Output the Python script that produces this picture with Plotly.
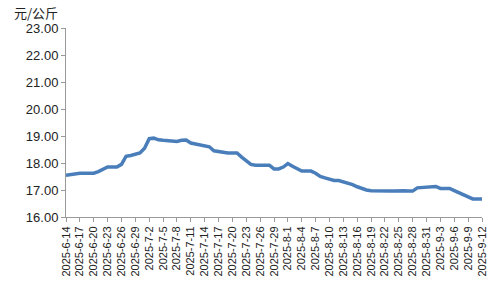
import plotly.graph_objects as go
import datetime as dt

start = dt.date(2025, 6, 14)
dates = [f"{(start + dt.timedelta(days=i)).year}-{(start + dt.timedelta(days=i)).month}-{(start + dt.timedelta(days=i)).day}" for i in range(91)]

prices = [
    17.55, 17.58, 17.60, 17.62, 17.62, 17.62, 17.62, 17.68, 17.78, 17.85,
    17.85, 17.85, 17.95, 18.25, 18.28, 18.32, 18.37, 18.55, 18.90, 18.92,
    18.86, 18.84, 18.82, 18.80, 18.80, 18.84, 18.85, 18.74, 18.70, 18.66,
    18.62, 18.60, 18.45, 18.42, 18.37, 18.37, 18.37, 18.37, 18.22, 18.10,
    17.95, 17.92, 17.92, 17.92, 17.92, 17.78, 17.78, 17.85, 17.98, 17.88,
    17.78, 17.70, 17.70, 17.70, 17.62, 17.50, 17.45, 17.40, 17.35, 17.35,
    17.30, 17.28, 17.20, 17.12, 17.05, 17.00, 16.97, 16.96, 16.96, 16.96,
    16.96, 16.96, 16.98, 16.97, 16.96, 16.96, 17.08, 17.10, 17.11, 17.12,
    17.13, 17.06, 17.06, 17.06, 16.98, 16.90, 16.82, 16.74, 16.67, 16.67,
    16.67,
]

tick_labels = dates[::3]
y_ticks = [16, 17, 18, 19, 20, 21, 22, 23]

fig = go.Figure()
fig.add_trace(go.Scatter(
    x=list(range(len(dates))), y=prices, mode="lines",
    line=dict(color="#4A7EBB", width=3.5), hoverinfo="skip",
))

fig.update_layout(
    width=500, height=300,
    margin=dict(l=66, r=14, t=28, b=83),
    paper_bgcolor="white", plot_bgcolor="white",
    showlegend=False,
    font=dict(family="Liberation Sans, Arial, sans-serif", color="#222"),
    annotations=[dict(
        text="元/公斤", xref="paper", yref="paper", x=-0.13, y=1.0,
        xanchor="left", yanchor="bottom", showarrow=False, yshift=4,
        font=dict(family="Noto Sans CJK SC", size=13, color="#222"),
    )],
)
fig.update_xaxes(
    range=[0, 90], tickmode="array",
    tickvals=list(range(0, 91, 3)), ticktext=tick_labels,
    tickangle=-90, tickfont=dict(size=11, color="#222"),
    showgrid=False, showline=True, linecolor="#999", linewidth=1,
    ticks="outside", ticklen=4, tickcolor="#999", zeroline=False,
)
fig.update_yaxes(
    range=[16, 23], tickmode="array", tickvals=y_ticks,
    ticktext=[f"{v:.2f}" for v in y_ticks],
    tickfont=dict(size=13, color="#222"),
    showgrid=False, showline=True, linecolor="#999", linewidth=1,
    ticks="outside", ticklen=4, tickcolor="#999", zeroline=False,
)

fig.write_html("out.html")
